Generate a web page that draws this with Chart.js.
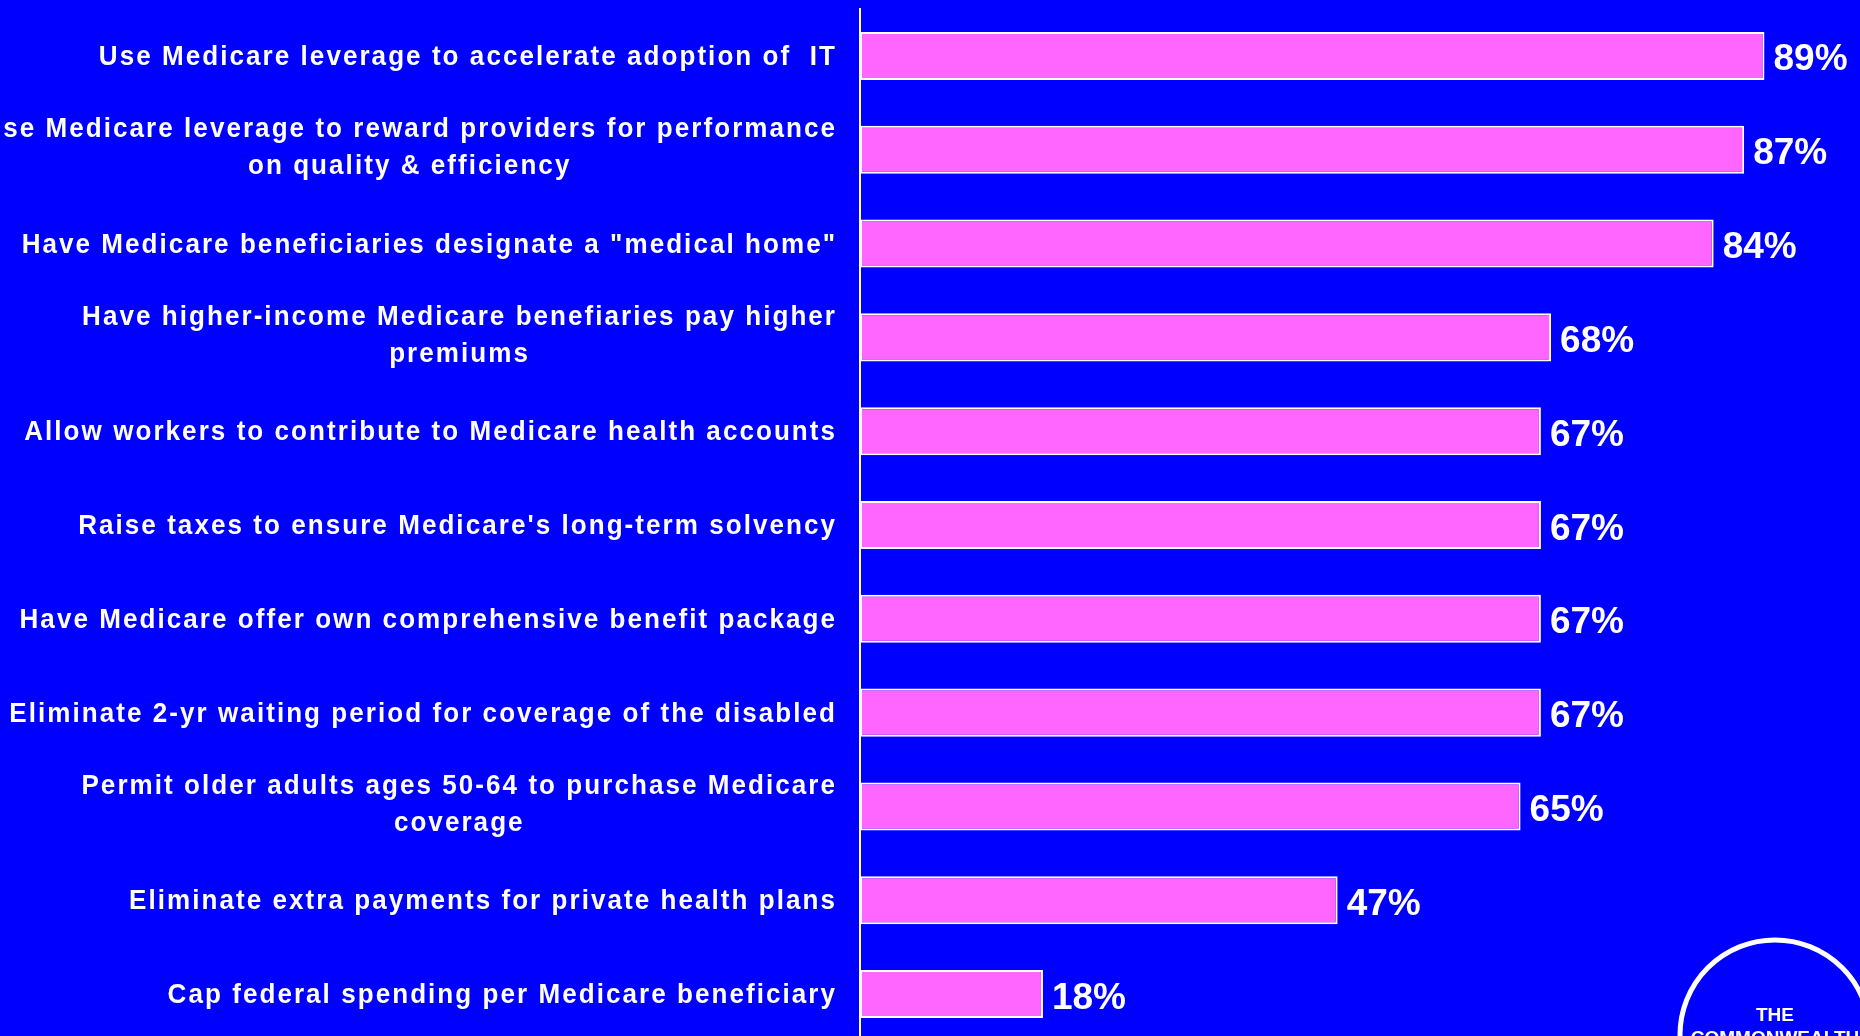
<!DOCTYPE html>
<html>
<head>
<meta charset="utf-8">
<script src="https://cdn.jsdelivr.net/npm/chart.js@4/dist/chart.umd.min.js"></script>
<style>
  html, body { margin: 0; padding: 0; background: #0000FF; overflow: hidden; }
  canvas { display: block; }
</style>
</head>
<body>
<canvas id="c" width="1860" height="1041"></canvas>
<script>
const categories = [
  "Use Medicare leverage to accelerate adoption of  IT",
  ["Use Medicare leverage to reward providers for performance", "on quality & efficiency"],
  "Have Medicare beneficiaries designate a \"medical home\"",
  ["Have higher-income Medicare benefiaries pay higher", "premiums"],
  "Allow workers to contribute to Medicare health accounts",
  "Raise taxes to ensure Medicare's long-term solvency",
  "Have Medicare offer own comprehensive benefit package",
  "Eliminate 2-yr waiting period for coverage of the disabled",
  ["Permit older adults ages 50-64 to purchase Medicare", "coverage"],
  "Eliminate extra payments for private health plans",
  "Cap federal spending per Medicare beneficiary"
];
const values = [89, 87, 84, 68, 67, 67, 67, 67, 65, 47, 18];
const valueSuffix = "%";
const axisMax = 98.4;
const logoLines = ["THE", "COMMONWEALTH"];

const BG = "#0000FF";
const BAR = "#FF66FF";
const LABEL_FONT = "bold 28px 'Liberation Sans', Arial, sans-serif";
const LABEL_SCALE_X = 0.93;
const LABEL_SPACING = 2.2;
const VALUE_FONT = "bold 37px 'Liberation Sans', Arial, sans-serif";

const bgPlugin = {
  id: "bg",
  beforeDraw(chart) {
    const ctx = chart.ctx;
    ctx.save();
    ctx.fillStyle = BG;
    ctx.fillRect(0, 0, chart.width, chart.height);
    ctx.restore();
  }
};

const labelPlugin = {
  id: "labels",
  afterDatasetsDraw(chart) {
    const ctx = chart.ctx;
    const yScale = chart.scales.y;
    const meta = chart.getDatasetMeta(0);
    ctx.save();
    // category labels
    ctx.font = LABEL_FONT;
    ctx.fillStyle = "#FFFFFF";
    ctx.letterSpacing = LABEL_SPACING + "px";
    ctx.textAlign = "center";
    ctx.textBaseline = "alphabetic";
    const right = 835 + LABEL_SPACING * LABEL_SCALE_X;
    categories.forEach((cat, i) => {
      const lines = Array.isArray(cat) ? cat : [cat];
      const y = yScale.getPixelForValue(i);
      const widest = Math.max(...lines.map(l => ctx.measureText(l).width)) * LABEL_SCALE_X;
      const cx = right - widest / 2;
      const lh = 37;
      const first = lines.length === 1 ? y + 9 : y + 9 - (lines.length - 1) * lh / 2 - 3;
      lines.forEach((l, k) => {
        ctx.save();
        ctx.translate(cx, first + k * lh);
        ctx.scale(LABEL_SCALE_X, 1);
        ctx.fillText(l, 0, 0);
        ctx.restore();
      });
    });
    // value labels
    ctx.letterSpacing = "0px";
    ctx.font = VALUE_FONT;
    ctx.textAlign = "left";
    meta.data.forEach((bar, i) => {
      ctx.fillText(values[i] + valueSuffix, bar.x + 9, bar.y + 14.5);
    });
    ctx.restore();
  },
  afterDraw(chart) {
    const ctx = chart.ctx;
    ctx.save();
    ctx.strokeStyle = "#FFFFFF";
    ctx.lineWidth = 5;
    ctx.beginPath();
    ctx.arc(1775, 1035, 95, 0, Math.PI * 2);
    ctx.stroke();
    ctx.fillStyle = "#FFFFFF";
    ctx.font = "bold 19px 'Liberation Sans', Arial, sans-serif";
    ctx.textAlign = "center";
    ctx.fillText(logoLines[0], 1775, 1021);
    ctx.fillText(logoLines[1], 1775, 1044);
    ctx.restore();
  }
};

new Chart(document.getElementById("c"), {
  type: "bar",
  data: {
    labels: categories,
    datasets: [{
      data: values,
      backgroundColor: BAR,
      borderColor: "#FFFFFF",
      borderWidth: 2,
      borderSkipped: false,
      barPercentage: 0.512,
      categoryPercentage: 1
    }]
  },
  options: {
    indexAxis: "y",
    responsive: false,
    animation: false,
    devicePixelRatio: 1,
    layout: { padding: { top: 9, bottom: 0, left: 0, right: 0 } },
    plugins: { legend: { display: false }, tooltip: { enabled: false } },
    scales: {
      x: { display: false, min: 0, max: axisMax },
      y: {
        display: true,
        grid: { display: false, drawTicks: false },
        border: { display: true, color: "#FFFFFF", width: 2 },
        ticks: { display: false },
        afterFit(scale) { scale.width = 860; }
      }
    }
  },
  plugins: [bgPlugin, labelPlugin]
});
</script>
</body>
</html>
